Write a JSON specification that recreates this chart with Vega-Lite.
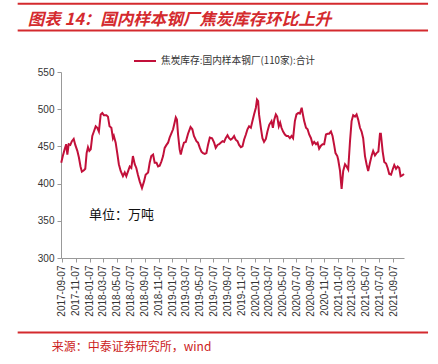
{
  "$schema": "https://vega.github.io/schema/vega-lite/v6.json",
  "width": 343,
  "height": 186,
  "autosize": "none",
  "padding": {"left": 61, "top": 72, "right": 34, "bottom": 106},
  "background": "white",
  "config": {
    "view": {"stroke": null},
    "font": "Liberation Sans",
    "axis": {"grid": false, "domainColor": "#999999", "tickColor": "#999999", "labelColor": "#333333", "labelFont": "Liberation Sans", "labelFontSize": 10, "tickSize": 4, "labelOverlap": false}
  },
  "resolve": {"axis": {"x": "independent", "y": "independent"}},
  "datasets": {
    "one": [{}],
    "series": [
      {"date":"2017-09-04","v":428},{"date":"2017-09-11","v":437},{"date":"2017-09-19","v":446},{"date":"2017-09-26","v":453},
      {"date":"2017-10-01","v":439},{"date":"2017-10-07","v":453},{"date":"2017-10-14","v":452},{"date":"2017-10-21","v":457},
      {"date":"2017-10-29","v":460},{"date":"2017-11-05","v":452},{"date":"2017-11-14","v":444},{"date":"2017-11-21","v":435},
      {"date":"2017-11-28","v":423},{"date":"2017-12-04","v":416},{"date":"2017-12-13","v":418},{"date":"2017-12-19","v":420},
      {"date":"2017-12-25","v":441},{"date":"2017-12-31","v":449},{"date":"2018-01-06","v":444},{"date":"2018-01-12","v":446},
      {"date":"2018-01-19","v":464},{"date":"2018-01-26","v":470},{"date":"2018-02-03","v":477},{"date":"2018-02-10","v":475},
      {"date":"2018-02-17","v":470},{"date":"2018-02-25","v":493},{"date":"2018-03-04","v":495},{"date":"2018-03-11","v":492},
      {"date":"2018-03-22","v":492},{"date":"2018-03-29","v":490},{"date":"2018-04-05","v":477},{"date":"2018-04-13","v":475},
      {"date":"2018-04-20","v":461},{"date":"2018-04-24","v":464},{"date":"2018-05-02","v":455},{"date":"2018-05-09","v":441},
      {"date":"2018-05-16","v":426},{"date":"2018-05-24","v":417},{"date":"2018-06-03","v":410},{"date":"2018-06-11","v":415},
      {"date":"2018-06-18","v":410},{"date":"2018-06-25","v":416},{"date":"2018-07-03","v":423},{"date":"2018-07-10","v":421},
      {"date":"2018-07-17","v":437},{"date":"2018-07-25","v":426},{"date":"2018-08-01","v":421},{"date":"2018-08-08","v":412},
      {"date":"2018-08-16","v":403},{"date":"2018-08-26","v":394},{"date":"2018-09-04","v":403},{"date":"2018-09-11","v":412},
      {"date":"2018-09-22","v":415},{"date":"2018-09-29","v":428},{"date":"2018-10-06","v":437},{"date":"2018-10-14","v":439},
      {"date":"2018-10-21","v":428},{"date":"2018-10-29","v":428},{"date":"2018-11-05","v":423},{"date":"2018-11-12","v":424},
      {"date":"2018-11-20","v":430},{"date":"2018-11-27","v":437},{"date":"2018-12-04","v":448},{"date":"2018-12-12","v":452},
      {"date":"2018-12-19","v":455},{"date":"2018-12-26","v":462},{"date":"2019-01-03","v":468},{"date":"2019-01-10","v":473},
      {"date":"2019-01-17","v":482},{"date":"2019-01-22","v":489},{"date":"2019-01-27","v":486},{"date":"2019-02-01","v":466},
      {"date":"2019-02-08","v":446},{"date":"2019-02-13","v":439},{"date":"2019-02-20","v":448},{"date":"2019-02-27","v":455},
      {"date":"2019-03-07","v":456},{"date":"2019-03-17","v":467},{"date":"2019-03-28","v":476},{"date":"2019-04-05","v":473},
      {"date":"2019-04-12","v":464},{"date":"2019-04-23","v":457},{"date":"2019-04-30","v":455},{"date":"2019-05-08","v":448},
      {"date":"2019-05-15","v":443},{"date":"2019-05-22","v":441},{"date":"2019-05-30","v":440},{"date":"2019-06-06","v":441},
      {"date":"2019-06-13","v":452},{"date":"2019-06-21","v":462},{"date":"2019-07-01","v":461},{"date":"2019-07-10","v":455},
      {"date":"2019-07-17","v":448},{"date":"2019-07-25","v":452},{"date":"2019-08-01","v":453},{"date":"2019-08-08","v":455},
      {"date":"2019-08-16","v":457},{"date":"2019-08-23","v":456},{"date":"2019-08-30","v":461},{"date":"2019-09-07","v":465},
      {"date":"2019-09-14","v":461},{"date":"2019-09-21","v":459},{"date":"2019-09-29","v":461},{"date":"2019-10-06","v":464},
      {"date":"2019-10-13","v":459},{"date":"2019-10-21","v":457},{"date":"2019-10-28","v":452},{"date":"2019-11-05","v":449},
      {"date":"2019-11-12","v":450},{"date":"2019-11-19","v":459},{"date":"2019-11-27","v":466},{"date":"2019-12-04","v":473},
      {"date":"2019-12-11","v":477},{"date":"2019-12-19","v":475},{"date":"2019-12-26","v":484},{"date":"2020-01-02","v":493},
      {"date":"2020-01-10","v":502},{"date":"2020-01-15","v":513},{"date":"2020-01-20","v":511},{"date":"2020-01-24","v":493},
      {"date":"2020-02-01","v":475},{"date":"2020-02-08","v":461},{"date":"2020-02-15","v":456},{"date":"2020-02-23","v":460},
      {"date":"2020-03-01","v":470},{"date":"2020-03-09","v":479},{"date":"2020-03-19","v":484},{"date":"2020-03-25","v":475},
      {"date":"2020-03-31","v":486},{"date":"2020-04-07","v":493},{"date":"2020-04-13","v":490},{"date":"2020-04-20","v":477},
      {"date":"2020-04-26","v":482},{"date":"2020-05-02","v":475},{"date":"2020-05-09","v":470},{"date":"2020-05-17","v":466},
      {"date":"2020-05-24","v":464},{"date":"2020-05-31","v":464},{"date":"2020-06-08","v":461},{"date":"2020-06-15","v":464},
      {"date":"2020-06-22","v":461},{"date":"2020-06-30","v":484},{"date":"2020-07-07","v":493},{"date":"2020-07-15","v":495},
      {"date":"2020-07-22","v":494},{"date":"2020-07-30","v":502},{"date":"2020-08-03","v":495},{"date":"2020-08-10","v":484},
      {"date":"2020-08-18","v":475},{"date":"2020-08-25","v":473},{"date":"2020-09-01","v":466},{"date":"2020-09-09","v":461},
      {"date":"2020-09-16","v":453},{"date":"2020-09-23","v":456},{"date":"2020-10-01","v":453},{"date":"2020-10-08","v":455},
      {"date":"2020-10-15","v":447},{"date":"2020-10-23","v":451},{"date":"2020-10-30","v":453},{"date":"2020-11-06","v":453},
      {"date":"2020-11-14","v":466},{"date":"2020-11-21","v":467},{"date":"2020-11-28","v":467},{"date":"2020-12-06","v":470},
      {"date":"2020-12-13","v":464},{"date":"2020-12-20","v":452},{"date":"2020-12-26","v":441},{"date":"2021-01-03","v":437},
      {"date":"2021-01-07","v":432},{"date":"2021-01-15","v":417},{"date":"2021-01-22","v":393},{"date":"2021-01-29","v":417},
      {"date":"2021-02-06","v":426},{"date":"2021-02-13","v":423},{"date":"2021-02-20","v":419},{"date":"2021-02-28","v":457},
      {"date":"2021-03-07","v":484},{"date":"2021-03-14","v":492},{"date":"2021-03-22","v":490},{"date":"2021-03-29","v":493},
      {"date":"2021-04-05","v":486},{"date":"2021-04-13","v":475},{"date":"2021-04-20","v":470},{"date":"2021-04-27","v":461},
      {"date":"2021-05-05","v":437},{"date":"2021-05-12","v":426},{"date":"2021-05-19","v":417},{"date":"2021-05-27","v":428},
      {"date":"2021-06-03","v":437},{"date":"2021-06-10","v":444},{"date":"2021-06-18","v":438},{"date":"2021-06-25","v":441},
      {"date":"2021-07-03","v":443},{"date":"2021-07-10","v":467},{"date":"2021-07-14","v":467},{"date":"2021-07-22","v":443},
      {"date":"2021-07-29","v":429},{"date":"2021-08-06","v":427},{"date":"2021-08-13","v":421},{"date":"2021-08-20","v":413},
      {"date":"2021-08-28","v":412},{"date":"2021-09-04","v":419},{"date":"2021-09-11","v":425},{"date":"2021-09-19","v":420},
      {"date":"2021-09-26","v":423},{"date":"2021-10-03","v":421},{"date":"2021-10-09","v":410},{"date":"2021-10-16","v":411},
      {"date":"2021-10-24","v":413}
    ]
  },
  "layer": [
    {
      "data": {"name": "series"},
      "mark": {"type": "line", "strokeWidth": 2, "clip": false},
      "encoding": {
        "x": {
          "field": "date", "type": "temporal",
          "scale": {"type": "utc", "domain": [{"year": 2017, "month": 9, "date": 3, "utc": true}, {"year": 2021, "month": 10, "date": 24, "utc": true}]},
          "axis": {
            "title": null, "format": "%Y-%m-%d", "labelAngle": -90, "labelPadding": 3, "labelOverlap": false,
            "values": [
              {"year":2017,"month":9,"date":7,"utc":true},{"year":2017,"month":11,"date":7,"utc":true},
              {"year":2018,"month":1,"date":7,"utc":true},{"year":2018,"month":3,"date":7,"utc":true},
              {"year":2018,"month":5,"date":7,"utc":true},{"year":2018,"month":7,"date":7,"utc":true},
              {"year":2018,"month":9,"date":7,"utc":true},{"year":2018,"month":11,"date":7,"utc":true},
              {"year":2019,"month":1,"date":7,"utc":true},{"year":2019,"month":3,"date":7,"utc":true},
              {"year":2019,"month":5,"date":7,"utc":true},{"year":2019,"month":7,"date":7,"utc":true},
              {"year":2019,"month":9,"date":7,"utc":true},{"year":2019,"month":11,"date":7,"utc":true},
              {"year":2020,"month":1,"date":7,"utc":true},{"year":2020,"month":3,"date":7,"utc":true},
              {"year":2020,"month":5,"date":7,"utc":true},{"year":2020,"month":7,"date":7,"utc":true},
              {"year":2020,"month":9,"date":7,"utc":true},{"year":2020,"month":11,"date":7,"utc":true},
              {"year":2021,"month":1,"date":7,"utc":true},{"year":2021,"month":3,"date":7,"utc":true},
              {"year":2021,"month":5,"date":7,"utc":true},{"year":2021,"month":7,"date":7,"utc":true},
              {"year":2021,"month":9,"date":7,"utc":true}
            ]
          }
        },
        "y": {
          "field": "v", "type": "quantitative",
          "scale": {"domain": [300, 550], "zero": false, "nice": false},
          "axis": {"title": null, "values": [300, 350, 400, 450, 500, 550], "labelPadding": 3, "labelOverlap": false}
        },
        "color": {
          "datum": "焦炭库存:国内样本钢厂(110家):合计",
          "scale": {"range": ["#c2103a"]},
          "legend": {
            "title": null, "orient": "none", "legendX": 72, "legendY": -23,
            "symbolType": "stroke", "symbolSize": 484, "symbolStrokeWidth": 2,
            "labelFont": "Noto Sans CJK SC", "labelFontSize": 9.7, "labelColor": "#333333", "labelOffset": 4, "labelLimit": 300
          }
        }
      }
    },
    {
      "data": {"name": "one"},
      "mark": {"type": "text", "font": "Noto Sans CJK SC", "fontSize": 16.5, "fontStyle": "italic", "fontWeight": "bold", "color": "#d42a2e", "align": "left", "baseline": "middle", "clip": false},
      "encoding": {
        "x": {"datum": {"year": 2017, "month": 4, "date": 9, "utc": true}, "type": "temporal", "axis": null},
        "y": {"datum": 620.1, "type": "quantitative", "axis": null},
        "text": {"value": "图表 14：国内样本钢厂焦炭库存环比上升"}
      }
    },
    {
      "data": {"name": "one"},
      "mark": {"type": "text", "font": "Noto Sans CJK SC", "fontSize": 13, "color": "#111111", "align": "center", "baseline": "middle", "clip": false},
      "encoding": {
        "x": {"datum": {"year": 2018, "month": 5, "date": 28, "utc": true}, "type": "temporal", "axis": null},
        "y": {"datum": 357.7, "type": "quantitative", "axis": null},
        "text": {"value": "单位：万吨"}
      }
    },
    {
      "data": {"name": "one"},
      "mark": {"type": "text", "font": "Noto Sans CJK SC", "fontSize": 12, "color": "#cc2222", "align": "left", "baseline": "middle", "clip": false},
      "encoding": {
        "x": {"datum": {"year": 2017, "month": 7, "date": 24, "utc": true}, "type": "temporal", "axis": null},
        "y": {"datum": 180.6, "type": "quantitative", "axis": null},
        "text": {"value": "来源：中泰证券研究所，wind"}
      }
    },
    {
      "data": {"name": "one"},
      "mark": {"type": "rule", "color": "#d42a2e", "strokeWidth": 2, "clip": false},
      "encoding": {
        "x": {"datum": {"year": 2017, "month": 2, "date": 24, "utc": true}, "type": "temporal", "axis": null},
        "x2": {"datum": {"year": 2022, "month": 2, "date": 7, "utc": true}},
        "y": {"datum": 641.6, "type": "quantitative", "axis": null}
      }
    },
    {
      "data": {"name": "one"},
      "mark": {"type": "rule", "color": "#d42a2e", "strokeWidth": 2, "clip": false},
      "encoding": {
        "x": {"datum": {"year": 2017, "month": 2, "date": 24, "utc": true}, "type": "temporal", "axis": null},
        "x2": {"datum": {"year": 2022, "month": 2, "date": 7, "utc": true}},
        "y": {"datum": 605.8, "type": "quantitative", "axis": null}
      }
    },
    {
      "data": {"name": "one"},
      "mark": {"type": "rule", "color": "#d42a2e", "strokeWidth": 2, "clip": false},
      "encoding": {
        "x": {"datum": {"year": 2017, "month": 2, "date": 24, "utc": true}, "type": "temporal", "axis": null},
        "x2": {"datum": {"year": 2022, "month": 2, "date": 7, "utc": true}},
        "y": {"datum": 200.0, "type": "quantitative", "axis": null}
      }
    }
  ]
}
